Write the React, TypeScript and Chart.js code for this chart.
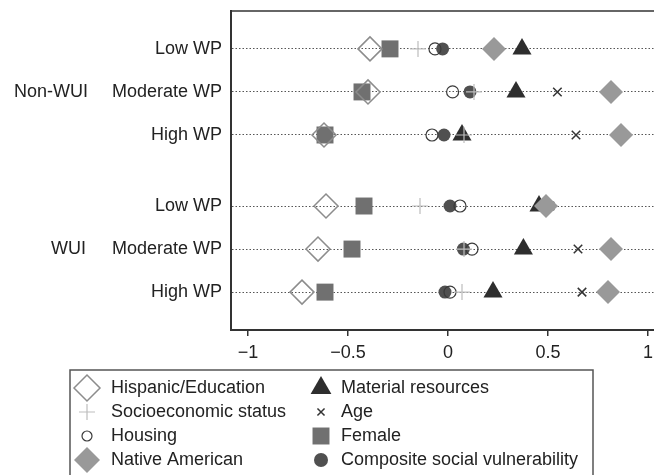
import React, { useEffect, useRef } from 'react';
import { Chart, registerables } from 'chart.js';
import { drawPoint } from 'chart.js/helpers';

Chart.register(...registerables);

// ---- data ----
const rowLabels = ['Low WP', 'Moderate WP', 'High WP', 'Low WP', 'Moderate WP', 'High WP'];
const groupLabels = ['Non-WUI', 'WUI'];
const xTickValues = [-1, -0.5, 0, 0.5, 1];

const hispanicEducation = [-0.39, -0.40, -0.62, -0.61, -0.65, -0.73];
const socioeconomicStatus = [-0.15, 0.13, 0.08, -0.14, 0.08, 0.07];
const housing = [-0.065, 0.023, -0.08, 0.06, 0.12, 0.01];
const nativeAmerican = [0.23, 0.815, 0.865, 0.49, 0.815, 0.80];
const materialResources = [0.37, 0.34, 0.07, 0.455, 0.377, 0.225];
const age = [0.225, 0.547, 0.64, 0.51, 0.65, 0.67];
const female = [-0.29, -0.43, -0.615, -0.42, -0.48, -0.615];
const composite = [-0.027, 0.11, -0.02, 0.01, 0.077, -0.015];

// ---- layout (row placement on the y scale) ----
const ROW_POS = [0, 1, 2, 3.65, 4.65, 5.65];
const GROUP_ROW = [1, 4];

const FONT = "'Liberation Sans', Arial, sans-serif";

const seriesDefs = [
  { label: 'Hispanic/Education', data: hispanicEducation, pointStyle: 'rectRot', radius: 12, bg: 'rgba(0,0,0,0)', border: '#8c8c8c', bw: 1.5, legendRadius: 13 },
  { label: 'Socioeconomic status', data: socioeconomicStatus, pointStyle: 'cross', radius: 8, bg: 'rgba(0,0,0,0)', border: '#bdbdbd', bw: 1.2, legendRadius: 8 },
  { label: 'Housing', data: housing, pointStyle: 'circle', radius: 6, bg: 'rgba(0,0,0,0)', border: '#3a3a3a', bw: 1.2, legendRadius: 5 },
  { label: 'Native American', data: nativeAmerican, pointStyle: 'rectRot', radius: 12, bg: '#999999', border: '#999999', bw: 0, legendRadius: 13 },
  { label: 'Material resources', data: materialResources, pointStyle: 'triangle', radius: 11, bg: '#2e2e2e', border: '#2e2e2e', bw: 0, legendRadius: 12 },
  { label: 'Age', data: age, pointStyle: 'crossRot', radius: 6, bg: 'rgba(0,0,0,0)', border: '#333333', bw: 1.5, legendRadius: 5 },
  { label: 'Female', data: female, pointStyle: 'rect', radius: 12, bg: '#707070', border: '#707070', bw: 0, legendRadius: 12 },
  { label: 'Composite social vulnerability', data: composite, pointStyle: 'circle', radius: 6.5, bg: '#505050', border: '#505050', bw: 0, legendRadius: 7 },
];

const fmtTick = (v: number) => (v < 0 ? '\u2212' + String(Math.abs(v)) : String(v));

const framePlugin = {
  id: 'frameAndLabels',
  afterDraw(chart: any) {
    const { ctx, chartArea, scales } = chart;
    ctx.save();
    // top border
    ctx.strokeStyle = '#333';
    ctx.lineWidth = 1.5;
    ctx.beginPath();
    ctx.moveTo(chartArea.left - 1, chartArea.top);
    ctx.lineTo(chartArea.right, chartArea.top);
    ctx.stroke();

    // group labels
    ctx.fillStyle = '#222';
    ctx.font = `18px ${FONT}`;
    ctx.textBaseline = 'middle';
    ctx.textAlign = 'left';
    const gx = [14, 51];
    groupLabels.forEach((g, i) => {
      const y = scales.y.getPixelForValue(ROW_POS[GROUP_ROW[i]]);
      ctx.fillText(g, gx[i], y);
    });

    // legend box
    ctx.strokeStyle = '#555';
    ctx.lineWidth = 1.5;
    ctx.strokeRect(70, 370, 523, 120);
    const colMarkerX = [87, 321];
    const colTextX = [111, 341];
    const rowY = [388, 412, 436, 460];
    seriesDefs.forEach((s, i) => {
      const col = Math.floor(i / 4);
      const row = i % 4;
      const y = rowY[row];
      ctx.fillStyle = s.bg;
      ctx.strokeStyle = s.border;
      ctx.lineWidth = s.bw;
      drawPoint(ctx, { pointStyle: s.pointStyle, radius: s.legendRadius, rotation: 0, borderWidth: s.bw } as any, colMarkerX[col], y);
      ctx.fillStyle = '#222';
      ctx.font = `18px ${FONT}`;
      ctx.textAlign = 'left';
      ctx.textBaseline = 'middle';
      ctx.fillText(s.label, colTextX[col], y);
    });
    ctx.restore();
  },
};

export default function App() {
  const ref = useRef<HTMLCanvasElement | null>(null);
  useEffect(() => {
    if (!ref.current) return;
    const chart = new Chart(ref.current, {
      type: 'scatter',
      data: {
        datasets: seriesDefs.map((s) => ({
          label: s.label,
          data: s.data.map((v, i) => ({ x: v, y: ROW_POS[i] })),
          pointStyle: s.pointStyle as any,
          pointRadius: s.radius,
          pointHoverRadius: s.radius,
          backgroundColor: s.bg,
          borderColor: s.border,
          pointBorderWidth: s.bw,
          borderWidth: s.bw,
        })),
      },
      options: {
        animation: false,
        responsive: false,
        events: [],
        layout: { autoPadding: false, padding: { top: 11, left: 0, right: 0, bottom: 0 } },
        plugins: {
          legend: { display: false },
          tooltip: { enabled: false },
        },
        scales: {
          x: {
            type: 'linear',
            min: -1.085,
            max: 1.03,
            afterBuildTicks: (scale: any) => {
              scale.ticks = xTickValues.map((v) => ({ value: v }));
            },
            afterFit: (scale: any) => {
              scale.height = 145;
              scale.paddingLeft = 0;
              scale.paddingRight = 0;
            },
            ticks: {
              callback: (v: any) => fmtTick(Number(v)),
              font: { size: 18, family: FONT },
              color: '#222',
              padding: 6,
              maxRotation: 0,
              autoSkip: false,
            },
            grid: {
              drawOnChartArea: false,
              drawTicks: true,
              tickLength: 6,
              color: '#333',
              lineWidth: 1.5,
            },
            border: { display: true, color: '#333', width: 2 },
          },
          y: {
            type: 'linear',
            reverse: true,
            min: -0.88,
            max: 6.53,
            afterBuildTicks: (scale: any) => {
              scale.ticks = ROW_POS.map((v) => ({ value: v }));
            },
            afterFit: (scale: any) => {
              scale.width = 231;
              scale.paddingTop = 0;
              scale.paddingBottom = 0;
            },
            ticks: {
              callback: (_v: any, i: number) => rowLabels[i],
              font: { size: 18, family: FONT },
              color: '#222',
              padding: 9,
              autoSkip: false,
            },
            grid: {
              drawOnChartArea: true,
              drawTicks: false,
              color: '#555',
              lineWidth: 1,
            },
            border: { display: true, color: '#333', width: 2, dash: [1.5, 2] },
          },
        },
      },
      plugins: [framePlugin],
    });
    return () => chart.destroy();
  }, []);
  return (
    <div style={{ position: 'fixed', left: 0, top: 0, width: 654, height: 475, background: '#fff' }}>
      <canvas ref={ref} width={654} height={475} style={{ width: 654, height: 475, display: 'block' }} />
    </div>
  );
}
